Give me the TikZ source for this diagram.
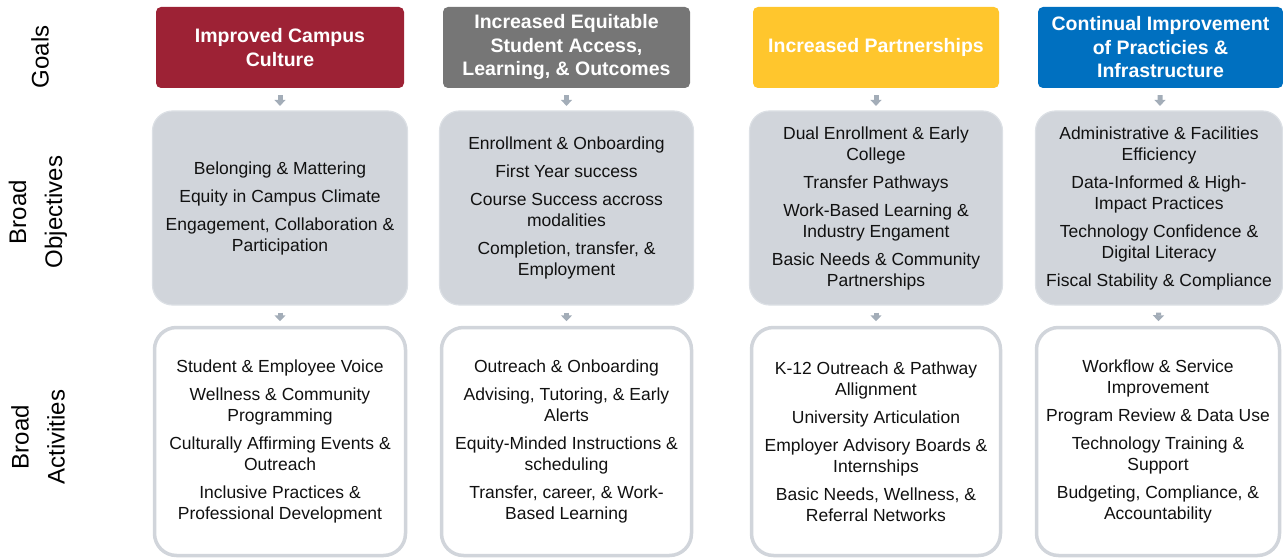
\documentclass[tikz,border=0pt]{standalone}
\usepackage{fontspec}
\setmainfont{Liberation Sans}
\usetikzlibrary{arrows.meta}
\definecolor{gred}{HTML}{9D2235}
\definecolor{ggray}{HTML}{767676}
\definecolor{gyellow}{HTML}{FFC62D}
\definecolor{gblue}{HTML}{0070C0}
\definecolor{objfill}{HTML}{D1D5DB}
\definecolor{objline}{HTML}{DCE0E5}
\definecolor{actline}{HTML}{D1D5DB}
\definecolor{arrgray}{HTML}{A3ADB8}
\definecolor{txt}{HTML}{111111}
\tikzset{
  goalbox/.style={rectangle, rounded corners=5pt, draw=none, minimum height=81pt, inner sep=0pt, align=center, text=white, font=\fontsize{19.5}{23.5}\selectfont\bfseries},
  objbox/.style={rectangle, rounded corners=20pt, fill=objfill, draw=objline, line width=1.2pt, minimum height=194pt, inner sep=0pt, align=center, text=txt, font=\fontsize{17.5}{21}\selectfont},
  actbox/.style={rectangle, rounded corners=22pt, fill=white, draw=actline, line width=3.5pt, minimum height=228pt, inner sep=0pt, align=center, text=txt, font=\fontsize{17.5}{21}\selectfont},
  lbl/.style={rotate=90, align=center, text=black, font=\fontsize{24}{36}\selectfont},
  arr/.style={-{Triangle[width=11pt,length=6pt]}, line width=5pt, draw=arrgray, shorten <=7pt, shorten >=4.5pt},
}
\newcommand{\gap}{\\[7pt]}
\begin{document}
\begin{tikzpicture}[x=1pt,y=1pt]
\useasboundingbox (0,0) rectangle (1283,-559);
% row labels
\node[lbl] (lg) at (40,-57) {Goals};
\node[lbl] (lo) at (38,-212) {Broad\\Objectives};
\node[lbl] (la) at (38,-437) {Broad\\Activities};
% goals
\node[goalbox, fill=gred, minimum width=248pt] (g1) at (280,-47.5) {Improved Campus\\Culture};
\node[goalbox, fill=ggray, minimum width=247pt] (g2) at (566.5,-47.5) {Increased Equitable\\Student Access,\\Learning, \& Outcomes};
\node[goalbox, fill=gyellow, minimum width=246pt] (g3) at (876,-47.5) {Increased Partnerships};
\node[goalbox, fill=gblue, minimum width=245pt] (g4) at (1160.5,-47.5) {Continual Improvement\\of Practicies \&\\Infrastructure};
% objectives
\node[objbox, minimum width=255pt] (o1) at (280,-208) {Belonging \& Mattering\gap Equity in Campus Climate\gap Engagement, Collaboration \&\\Participation};
\node[objbox, minimum width=254pt] (o2) at (566.5,-208) {Enrollment \& Onboarding\gap First Year success\gap Course Success accross\\modalities\gap Completion, transfer, \&\\Employment};
\node[objbox, minimum width=253pt] (o3) at (876,-208) {Dual Enrollment \& Early\\College\gap Transfer Pathways\gap Work-Based Learning \&\\Industry Engament\gap Basic Needs \& Community\\Partnerships};
\node[objbox, minimum width=247pt] (o4) at (1159,-208) {Administrative \& Facilities\\Efficiency\gap Data-Informed \& High-\\Impact Practices\gap Technology Confidence \&\\Digital Literacy\gap Fiscal Stability \& Compliance};
% activities
\node[actbox, minimum width=251pt] (a1) at (280,-441.5) {Student \& Employee Voice\gap Wellness \& Community\\Programming\gap Culturally Affirming Events \&\\Outreach\gap Inclusive Practices \&\\Professional Development};
\node[actbox, minimum width=250pt] (a2) at (566.5,-441.5) {Outreach \& Onboarding\gap Advising, Tutoring, \& Early\\Alerts\gap Equity-Minded Instructions \&\\scheduling\gap Transfer, career, \& Work-\\Based Learning};
\node[actbox, minimum width=249pt] (a3) at (876,-441.5) {K-12 Outreach \& Pathway\\Allignment\gap University Articulation\gap Employer Advisory Boards \&\\Internships\gap Basic Needs, Wellness, \&\\Referral Networks};
\node[actbox, minimum width=243pt] (a4) at (1158,-441.5) {Workflow \& Service\\Improvement\gap Program Review \& Data Use\gap Technology Training \&\\Support\gap Budgeting, Compliance, \&\\Accountability};
% arrows
\foreach \i in {1,2,3,4}{
  \draw[arr] (g\i) -- (o\i);
  \draw[arr] (o\i) -- (a\i);
}
\end{tikzpicture}
\end{document}
